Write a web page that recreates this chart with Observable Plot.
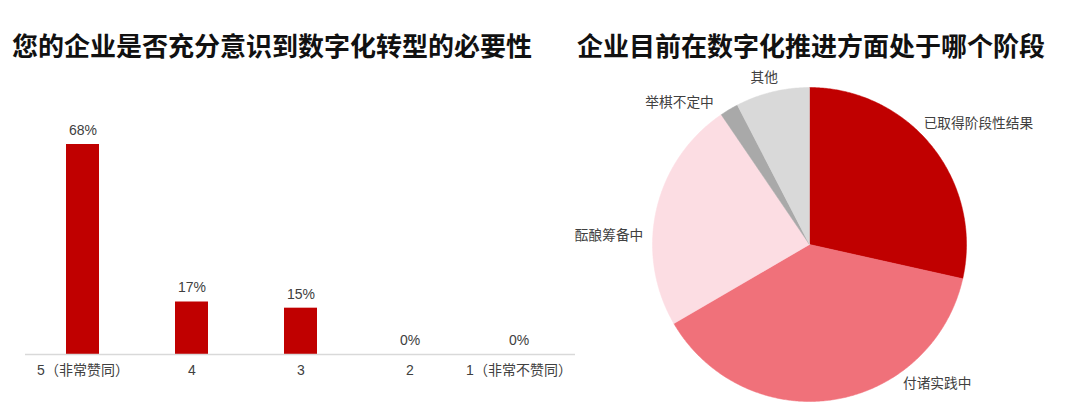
<!DOCTYPE html>
<html>
<head>
<meta charset="utf-8">
<script src="https://cdn.jsdelivr.net/npm/d3@7"></script>
<script src="https://cdn.jsdelivr.net/npm/@observablehq/plot@0.6"></script>
<style>
  html, body { margin: 0; padding: 0; background: #fff; width: 1080px; height: 420px; overflow: hidden; }
  .title { position: absolute; font-family: "Noto Sans CJK SC", sans-serif; font-weight: bold; font-size: 26px; line-height: 26px; color: #111; white-space: nowrap; }
  #bar, #pie { position: absolute; }
  svg { overflow: visible; }
</style>
</head>
<body>
<div class="title" id="t1" style="left:12px; top:32px;">您的企业是否充分意识到数字化转型的必要性</div>
<div class="title" id="t2" style="left:577px; top:32px;">企业目前在数字化推进方面处于哪个阶段</div>
<div id="bar" style="left:0px; top:80px;"></div>
<div id="pie" style="left:540px; top:60px;"></div>
<script>
// ---- Bar chart data ----
const barCategories = ["5（非常赞同）", "4", "3", "2", "1（非常不赞同）"];
const barValues = [68, 17, 15, 0, 0];

// ---- Pie chart data ----
const pieLabels = ["已取得阶段性结果", "付诸实践中", "酝酿筹备中", "举棋不定中", "其他"];
const pieValues = [28.5, 38.1, 23.9, 1.9, 7.6];
const pieColors = ["#c00000", "#f0717a", "#fcdde3", "#a9a9a9", "#d9d9d9"];

// label placement (Excel-style best-fit positions): angle in degrees clockwise from top, distance factor, anchor
const pieLabelAngle = [43.3, 146.2, 273.1, 326, 344.8];
const pieLabelDist = [1.06, 1.07, 1.06, 1.09, 1.1];
const pieLabelAnchor = ["start", "start", "end", "end", "middle"];

const labelFont = '"Liberation Sans", "Noto Sans CJK SC", sans-serif';
const textColor = "#404040";

// ---- Bar chart ----
const barData = barCategories.map((c, i) => ({cat: c, v: barValues[i]}));
const bar = Plot.plot({
  width: 590,
  height: 320,
  marginLeft: 25,
  marginRight: 15,
  marginTop: 64,
  marginBottom: 46,
  style: {fontFamily: labelFont, fontSize: "14px", color: textColor, background: "transparent"},
  x: {domain: barCategories, paddingInner: 0.7, paddingOuter: 0.36, label: null},
  y: {domain: [0, 68], axis: null},
  marks: [
    Plot.barY(barData, {x: "cat", y: "v", fill: "#c00000"}),
    Plot.ruleY([0], {stroke: "#d9d9d9", strokeWidth: 1.5}),
    Plot.text(barData, {x: "cat", y: "v", text: d => d.v + "%", dy: -14, fontSize: 14, fill: textColor}),
    Plot.axisX({tickSize: 0, tickPadding: 11, fontSize: 14, fill: textColor, label: null})
  ]
});
document.getElementById("bar").appendChild(bar);

// ---- Pie chart ----
const total = d3.sum(pieValues);
const polyPoints = [];
let acc = 0;
pieLabels.forEach((name, i) => {
  const a0 = acc / total * 2 * Math.PI;
  acc += pieValues[i];
  const a1 = acc / total * 2 * Math.PI;
  polyPoints.push({name, x: 0, y: 0});
  const n = Math.max(2, Math.ceil((a1 - a0) / (Math.PI / 360)));
  for (let k = 0; k <= n; k++) {
    const t = a0 + (a1 - a0) * k / n;
    polyPoints.push({name, x: Math.sin(t), y: Math.cos(t)});
  }
  polyPoints.push({name, x: 0, y: 0});
});
const labelData = pieLabels.map((name, i) => {
  const t = pieLabelAngle[i] * Math.PI / 180;
  return {name, x: pieLabelDist[i] * Math.sin(t), y: pieLabelDist[i] * Math.cos(t), anchor: pieLabelAnchor[i]};
});

const cx = 269, cy = 184, R = 157;
const pie = Plot.plot({
  width: 540,
  height: 360,
  margin: 0,
  style: {fontFamily: labelFont, fontSize: "13.7px", color: textColor, background: "transparent"},
  x: {domain: [-1, 1], range: [cx - R, cx + R], axis: null},
  y: {domain: [-1, 1], range: [cy + R, cy - R], axis: null},
  color: {domain: pieLabels, range: pieColors},
  marks: [
    Plot.line(polyPoints, {x: "x", y: "y", z: "name", fill: "name", stroke: "name", strokeWidth: 0.5, curve: "linear"}),
    ...["start", "end", "middle"].map(a =>
      Plot.text(labelData.filter(d => d.anchor === a), {x: "x", y: "y", text: "name", textAnchor: a, fontSize: 13.7, fill: textColor, fontFamily: '"Noto Sans CJK SC", sans-serif'})
    )
  ]
});
document.getElementById("pie").appendChild(pie);
</script>
</body>
</html>
